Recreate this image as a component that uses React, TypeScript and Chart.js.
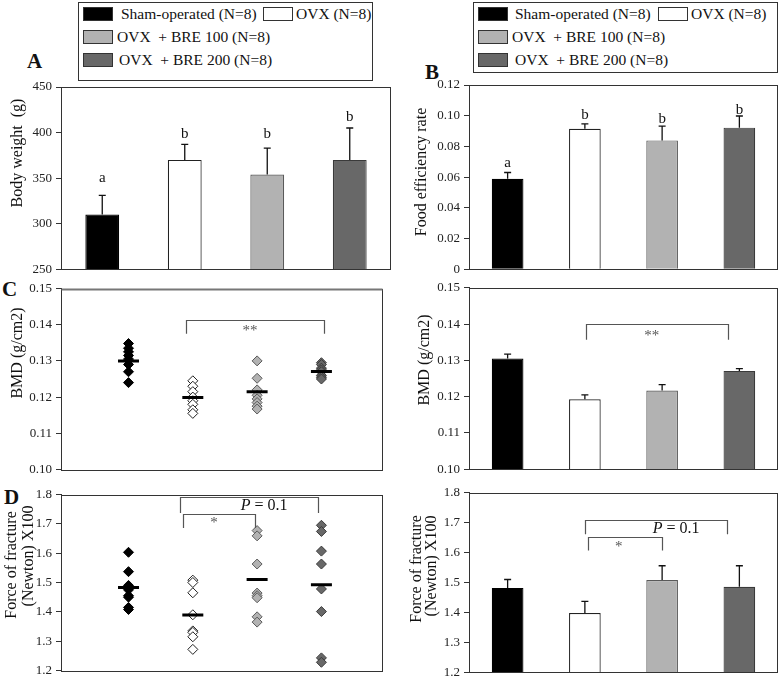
import React, { useEffect, useRef } from 'react';
import { Chart, registerables } from 'chart.js';

Chart.register(...registerables);

const SERIF = '"Liberation Serif", "Times New Roman", serif';

// ---------- data ----------
const groupNames = ['Sham-operated', 'OVX', 'OVX + BRE 100', 'OVX + BRE 200'];
const legendLabels = ['Sham-operated (N=8)', 'OVX (N=8)', 'OVX  + BRE 100 (N=8)', 'OVX  + BRE 200 (N=8)'];
const fillColors = ['#000000', '#ffffff', '#b2b2b2', '#686868'];
const edgeColors = ['#000000', '#222222', '#5a5a5a', '#3a3a3a'];

// A: body weight
const bodyWeight = [310, 370, 354, 370];
const bodyWeightSD = [21, 17, 29, 35];
const bodyWeightLetters = ['a', 'b', 'b', 'b'];
const bodyWeightLetterY = [350, 398, 398, 417];
const bodyWeightTicks = [250, 300, 350, 400, 450];
const bodyWeightTickLabels = ['250', '300', '350', '400', '450'];

// B: food efficiency rate
const foodEff = [0.0589, 0.0915, 0.0839, 0.0922];
const foodEffSD = [0.0041, 0.0032, 0.0093, 0.0076];
const foodEffLetters = ['a', 'b', 'b', 'b'];
const foodEffLetterY = [0.069, 0.1006, 0.0979, 0.1038];
const foodEffTicks = [0, 0.02, 0.04, 0.06, 0.08, 0.1, 0.12];
const foodEffTickLabels = ['0', '0.02', '0.04', '0.06', '0.08', '0.10', '0.12'];

// C: BMD
const bmdSham = [0.1348, 0.1335, 0.1325, 0.1315, 0.1305, 0.129, 0.127, 0.124];
const bmdOVX = [0.1245, 0.123, 0.1215, 0.12, 0.119, 0.118, 0.1165, 0.1155];
const bmdBRE100 = [0.13, 0.1252, 0.122, 0.1205, 0.1195, 0.1185, 0.1175, 0.1167];
const bmdBRE200 = [0.1295, 0.129, 0.128, 0.1275, 0.127, 0.126, 0.1255, 0.125];
const bmdScatterMean = [0.13, 0.1199, 0.1215, 0.1271];
const bmdMean = [0.1305, 0.1193, 0.1217, 0.1271];
const bmdSD = [0.0012, 0.0012, 0.0016, 0.0006];
const bmdTicks = [0.1, 0.11, 0.12, 0.13, 0.14, 0.15];
const bmdTickLabels = ['0.10', '0.11', '0.12', '0.13', '0.14', '0.15'];

// D: force of fracture
const forceSham = [1.603, 1.537, 1.49, 1.475, 1.455, 1.45, 1.415, 1.408];
const forceOVX = [1.508, 1.5, 1.465, 1.39, 1.335, 1.33, 1.315, 1.272];
const forceBRE100 = [1.677, 1.659, 1.563, 1.464, 1.455, 1.448, 1.383, 1.365];
const forceBRE200 = [1.695, 1.674, 1.607, 1.563, 1.478, 1.401, 1.243, 1.228];
const forceScatterMean = [1.483, 1.389, 1.51, 1.492];
const forceMean = [1.482, 1.398, 1.508, 1.486];
const forceSD = [0.028, 0.039, 0.048, 0.07];
const forceTicks = [1.2, 1.3, 1.4, 1.5, 1.6, 1.7, 1.8];
const forceTickLabels = ['1.2', '1.3', '1.4', '1.5', '1.6', '1.7', '1.8'];

// ---------- plugin ----------
type Part = { t: string; italic?: boolean };
type Txt = { x: number; y: number; parts: Part[]; size?: number; color?: string };
type Bracket = { x1: number; x2: number; top: number; end: number };
type TitleLine = { t: string; x: number; y: number };

const annotPlugin = {
  id: 'annot',
  afterDatasetsDraw(chart: any, _args: any, opts: any) {
    const ctx = chart.ctx as CanvasRenderingContext2D;
    const xs = chart.scales.x;
    const ys = chart.scales.y;
    ctx.save();
    if (opts.err) {
      const meta = chart.getDatasetMeta(0);
      (opts.err.means as number[]).forEach((m, i) => {
        const x = meta.data[i].x;
        const y0 = ys.getPixelForValue(m);
        const y1 = ys.getPixelForValue(m + opts.err.sds[i]);
        ctx.strokeStyle = '#111';
        ctx.lineWidth = 1.3;
        ctx.beginPath();
        ctx.moveTo(x, y0);
        ctx.lineTo(x, y1);
        ctx.moveTo(x - 3.5, y1);
        ctx.lineTo(x + 3.5, y1);
        ctx.stroke();
      });
    }
    if (opts.brackets) {
      (opts.brackets as Bracket[]).forEach((b) => {
        const x1 = Math.round(xs.getPixelForValue(b.x1)) + 0.5;
        const x2 = Math.round(xs.getPixelForValue(b.x2)) + 0.5;
        const yt = Math.round(ys.getPixelForValue(b.top)) + 0.5;
        const ye = ys.getPixelForValue(b.end);
        ctx.strokeStyle = '#555';
        ctx.lineWidth = 1.2;
        ctx.beginPath();
        ctx.moveTo(x1, ye);
        ctx.lineTo(x1, yt);
        ctx.lineTo(x2, yt);
        ctx.lineTo(x2, ye);
        ctx.stroke();
      });
    }
    if (opts.texts) {
      (opts.texts as Txt[]).forEach((tx) => {
        const size = tx.size || 15;
        const px = xs.getPixelForValue(tx.x);
        const py = ys.getPixelForValue(tx.y);
        const fontOf = (p: Part) => `${p.italic ? 'italic ' : ''}${size}px ${SERIF}`;
        let total = 0;
        const widths = tx.parts.map((p) => {
          ctx.font = fontOf(p);
          const w = ctx.measureText(p.t).width;
          total += w;
          return w;
        });
        let cx = px - total / 2;
        ctx.fillStyle = tx.color || '#111';
        ctx.textBaseline = 'middle';
        ctx.textAlign = 'left';
        tx.parts.forEach((p, i) => {
          ctx.font = fontOf(p);
          ctx.fillText(p.t, cx, py);
          cx += widths[i];
        });
      });
    }
    ctx.restore();
  },
  afterDraw(chart: any, _args: any, opts: any) {
    const ctx = chart.ctx as CanvasRenderingContext2D;
    const ca = chart.chartArea;
    ctx.save();
    ctx.strokeStyle = '#333';
    ctx.lineWidth = 1;
    const l = Math.round(ca.left) + 0.5;
    const t = Math.round(ca.top) + 0.5;
    const r = Math.round(ca.right) - 0.5;
    const b = Math.round(ca.bottom) + 0.5;
    ctx.strokeRect(l, t, r - l, b - t);
    if (opts.topLine) {
      ctx.strokeStyle = opts.topLine.color;
      ctx.lineWidth = opts.topLine.width;
      ctx.beginPath();
      ctx.moveTo(l, t);
      ctx.lineTo(r, t);
      ctx.stroke();
    }
    if (opts.titles) {
      ctx.fillStyle = '#111';
      ctx.font = `16px ${SERIF}`;
      ctx.textAlign = 'center';
      ctx.textBaseline = 'middle';
      (opts.titles as TitleLine[]).forEach((ln) => {
        ctx.save();
        ctx.translate(ln.x, ln.y);
        ctx.rotate(-Math.PI / 2);
        ctx.fillText(ln.t, 0, 0);
        ctx.restore();
      });
    }
    ctx.restore();
  },
};

// ---------- helpers ----------
function yAxis(min: number, max: number, ticks: number[], labels: string[], axisWidth: number) {
  return {
    type: 'linear',
    min,
    max,
    afterBuildTicks: (s: any) => {
      s.ticks = ticks.map((v) => ({ value: v }));
    },
    afterFit: (s: any) => {
      s.width = axisWidth;
    },
    ticks: {
      font: { family: SERIF, size: 13 },
      color: '#222',
      padding: 4,
      autoSkip: false,
      callback: (_v: any, i: number) => labels[i],
    },
    grid: { drawOnChartArea: false, drawTicks: true, tickLength: 5, color: '#333' },
    border: { display: true, color: '#333' },
  };
}

function barConfig(values: number[], sds: number[], y: any, pad: any, annot: any) {
  return {
    type: 'bar',
    data: {
      labels: groupNames,
      datasets: [
        {
          data: values,
          backgroundColor: fillColors,
          borderColor: edgeColors,
          borderWidth: 1.2,
          barPercentage: 0.41,
          categoryPercentage: 1,
        },
      ],
    },
    options: {
      responsive: false,
      animation: false,
      events: [],
      layout: { padding: pad },
      plugins: {
        legend: { display: false },
        tooltip: { enabled: false },
        annot: { err: { means: values, sds }, ...annot },
      },
      scales: { x: { display: false }, y },
    },
    plugins: [annotPlugin],
  };
}

function scatterConfig(groups: number[][], means: number[], y: any, pad: any, annot: any) {
  const ds: any[] = [
    {
      data: means.map((m, i) => ({ x: i + 1, y: m })),
      pointStyle: 'line',
      radius: 10.5,
      borderWidth: 3,
      borderColor: '#000',
      backgroundColor: '#000',
    },
  ];
  groups.forEach((g, gi) => {
    ds.push({
      data: g.map((v) => ({ x: gi + 1, y: v })),
      pointStyle: 'rectRot',
      radius: 5,
      borderWidth: 1,
      backgroundColor: fillColors[gi],
      borderColor: edgeColors[gi],
    });
  });
  return {
    type: 'scatter',
    data: { datasets: ds },
    options: {
      responsive: false,
      animation: false,
      events: [],
      layout: { padding: pad },
      plugins: { legend: { display: false }, tooltip: { enabled: false }, annot },
      scales: { x: { type: 'linear', display: false, min: -0.05, max: 4.95 }, y },
    },
    plugins: [annotPlugin],
  };
}

function ChartPanel(props: { left: number; top: number; width: number; height: number; build: () => any }) {
  const ref = useRef<HTMLCanvasElement>(null);
  useEffect(() => {
    const chart = new Chart(ref.current as HTMLCanvasElement, props.build());
    return () => chart.destroy();
  }, []);
  return (
    <canvas
      ref={ref}
      width={props.width}
      height={props.height}
      style={{ position: 'absolute', left: props.left, top: props.top, width: props.width, height: props.height }}
    />
  );
}

const letterTexts = (letters: string[], ys: number[]): Txt[] =>
  letters.map((t, i) => ({ x: i, y: ys[i], parts: [{ t }], size: 15 }));

// ---------- legend ----------
type LegItem = { idx: number; sx: number; sy: number; tx: number; ty: number };
function Legend(props: { box: { l: number; t: number; w: number; h: number }; items: LegItem[] }) {
  const { box, items } = props;
  return (
    <>
      <div
        style={{
          position: 'absolute',
          left: box.l,
          top: box.t,
          width: box.w,
          height: box.h,
          border: '1px solid #333',
          boxSizing: 'border-box',
        }}
      />
      {items.map((it) => (
        <React.Fragment key={it.idx}>
          <div
            style={{
              position: 'absolute',
              left: it.sx,
              top: it.sy,
              width: 30,
              height: 14,
              background: fillColors[it.idx],
              border: '1px solid #333',
              boxSizing: 'border-box',
            }}
          />
          <div
            style={{
              position: 'absolute',
              left: it.tx,
              top: it.ty - 9,
              height: 18,
              lineHeight: '18px',
              fontFamily: SERIF,
              fontSize: 15.5,
              color: '#111',
              whiteSpace: 'pre',
            }}
          >
            {legendLabels[it.idx]}
          </div>
        </React.Fragment>
      ))}
    </>
  );
}

function PanelLetter(props: { t: string; x: number; y: number }) {
  return (
    <div
      style={{
        position: 'absolute',
        left: props.x,
        top: props.y - 12,
        height: 24,
        lineHeight: '24px',
        fontFamily: SERIF,
        fontWeight: 'bold',
        fontSize: 21,
        color: '#111',
      }}
    >
      {props.t}
    </div>
  );
}

export default function App() {
  return (
    <div style={{ position: 'absolute', left: 0, top: 0, width: 780, height: 684, background: '#fff', overflow: 'hidden' }}>
      <Legend
        box={{ l: 78, t: 2, w: 295, h: 79 }}
        items={[
          { idx: 0, sx: 83, sy: 7, tx: 121, ty: 14 },
          { idx: 1, sx: 263, sy: 7, tx: 296, ty: 14 },
          { idx: 2, sx: 83, sy: 30, tx: 117, ty: 37 },
          { idx: 3, sx: 83, sy: 53, tx: 119, ty: 60 },
        ]}
      />
      <Legend
        box={{ l: 473, t: 2, w: 305, h: 71 }}
        items={[
          { idx: 0, sx: 478, sy: 7, tx: 515, ty: 14 },
          { idx: 1, sx: 658, sy: 7, tx: 691, ty: 14 },
          { idx: 2, sx: 478, sy: 30, tx: 512, ty: 37 },
          { idx: 3, sx: 478, sy: 53, tx: 515, ty: 60 },
        ]}
      />
      <PanelLetter t="A" x={27} y={61} />
      <PanelLetter t="B" x={425} y={72} />
      <PanelLetter t="C" x={2} y={289} />
      <PanelLetter t="D" x={4} y={497} />

      {/* A */}
      <ChartPanel
        left={0}
        top={75}
        width={396}
        height={206}
        build={() =>
          barConfig(bodyWeight, bodyWeightSD, yAxis(250, 450, bodyWeightTicks, bodyWeightTickLabels, 61), { top: 12, right: 5, bottom: 8, left: 0 }, {
            texts: letterTexts(bodyWeightLetters, bodyWeightLetterY),
            titles: [{ t: 'Body weight  (g)', x: 18, y: 78 }],
          })
        }
      />
      {/* B */}
      <ChartPanel
        left={400}
        top={73}
        width={380}
        height={208}
        build={() =>
          barConfig(foodEff, foodEffSD, yAxis(0, 0.12, foodEffTicks, foodEffTickLabels, 69), { top: 12, right: 2, bottom: 8, left: 0 }, {
            texts: letterTexts(foodEffLetters, foodEffLetterY),
            titles: [{ t: 'Food efficiency rate', x: 22, y: 99 }],
          })
        }
      />
      {/* C left */}
      <ChartPanel
        left={0}
        top={275}
        width={396}
        height={208}
        build={() =>
          scatterConfig([bmdSham, bmdOVX, bmdBRE100, bmdBRE200], bmdScatterMean, yAxis(0.1, 0.15, bmdTicks, bmdTickLabels, 61), { top: 10, right: 5, bottom: 8, left: 0 }, {
            brackets: [{ x1: 1.9, x2: 4.04, top: 0.1414, end: 0.1375 }],
            texts: [{ x: 2.89, y: 0.1382, parts: [{ t: '**' }], size: 15, color: '#555' }],
            titles: [{ t: 'BMD (g/cm2)', x: 18, y: 78 }],
            topLine: { color: '#777', width: 2 },
          })
        }
      />
      {/* C right */}
      <ChartPanel
        left={400}
        top={276}
        width={380}
        height={205}
        build={() =>
          barConfig(bmdMean, bmdSD, yAxis(0.1, 0.15, bmdTicks, bmdTickLabels, 69), { top: 10, right: 2, bottom: 8, left: 0 }, {
            brackets: [{ x1: 1.015, x2: 2.85, top: 0.14, end: 0.1357 }],
            texts: [{ x: 1.865, y: 0.1366, parts: [{ t: '**' }], size: 15, color: '#555' }],
            titles: [{ t: 'BMD (g/cm2)', x: 25, y: 84 }],
          })
        }
      />
      {/* D left */}
      <ChartPanel
        left={0}
        top={481}
        width={396}
        height={203}
        build={() =>
          scatterConfig([forceSham, forceOVX, forceBRE100, forceBRE200], forceScatterMean, yAxis(1.2, 1.8, forceTicks, forceTickLabels, 61), { top: 10, right: 5, bottom: 5, left: 0 }, {
            brackets: [
              { x1: 1.8, x2: 3.95, top: 1.79, end: 1.737 },
              { x1: 1.84, x2: 2.965, top: 1.734, end: 1.686 },
            ],
            texts: [
              { x: 3.11, y: 1.763, parts: [{ t: 'P', italic: true }, { t: ' = 0.1' }], size: 16, color: '#111' },
              { x: 2.33, y: 1.701, parts: [{ t: '*' }], size: 15, color: '#555' },
            ],
            titles: [
              { t: 'Force of fracture', x: 12, y: 84 },
              { t: '(Newton) X100', x: 29, y: 75 },
            ],
          })
        }
      />
      {/* D right */}
      <ChartPanel
        left={400}
        top={481}
        width={380}
        height={203}
        build={() =>
          barConfig(forceMean, forceSD, yAxis(1.2, 1.8, forceTicks, forceTickLabels, 69), { top: 10, right: 2, bottom: 6, left: 0 }, {
            brackets: [
              { x1: 1.002, x2: 2.836, top: 1.71, end: 1.661 },
              { x1: 1.037, x2: 1.995, top: 1.653, end: 1.607 },
            ],
            texts: [
              { x: 2.18, y: 1.678, parts: [{ t: 'P', italic: true }, { t: ' = 0.1' }], size: 16, color: '#111' },
              { x: 1.44, y: 1.617, parts: [{ t: '*' }], size: 15, color: '#555' },
            ],
            titles: [
              { t: 'Force of fracture', x: 17, y: 88 },
              { t: '(Newton) X100', x: 32, y: 85 },
            ],
          })
        }
      />
    </div>
  );
}
